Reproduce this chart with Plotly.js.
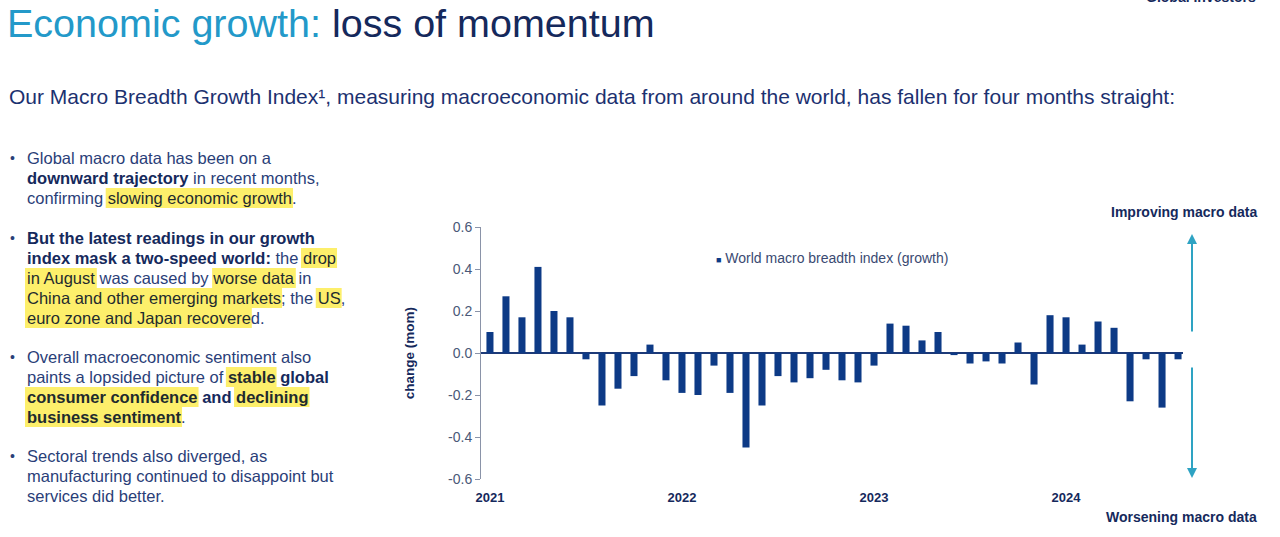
<!DOCTYPE html>
<html>
<head>
<meta charset="utf-8">
<script src="https://cdn.plot.ly/plotly-3.0.1.min.js"></script>
<style>
  html, body { margin: 0; padding: 0; background: #fff; }
  #chart { width: 1280px; height: 537px; }
</style>
</head>
<body>
<div id="chart"></div>
<script>
// Monthly change of the world macro breadth index (growth), Jan 2021 - Aug 2024
const years = [2021, 2022, 2023, 2024];
const monthNames = ['Jan', 'Feb', 'Mar', 'Apr', 'May', 'Jun', 'Jul', 'Aug', 'Sep', 'Oct', 'Nov', 'Dec'];
const change2021 = [0.10, 0.27, 0.17, 0.41, 0.20, 0.17, -0.03, -0.25, -0.17, -0.11, 0.04, -0.13];
const change2022 = [-0.19, -0.20, -0.06, -0.19, -0.45, -0.25, -0.11, -0.14, -0.12, -0.08, -0.13, -0.14];
const change2023 = [-0.06, 0.14, 0.13, 0.06, 0.10, -0.01, -0.05, -0.04, -0.05, 0.05, -0.15, 0.18];
const change2024 = [0.17, 0.04, 0.15, 0.12, -0.23, -0.03, -0.26, -0.03];
const yTickVals = [-0.6, -0.4, -0.2, 0, 0.2, 0.4, 0.6];
const yTickText = ['-0.6', '-0.4', '-0.2', '0.0', '0.2', '0.4', '0.6'];

const seriesName = 'World macro breadth index (growth)';

// build month categories
var values = [].concat(change2021, change2022, change2023, change2024);
var months = [];
years.forEach(function (yr) {
    monthNames.forEach(function (m) {
        if (months.length < values.length) months.push(m + ' ' + yr);
    });
});
var yearTickVals = years.map(yr => 'Jan ' + yr);
var yearTickText = years.map(yr => String(yr));

// colours
var navy = '#15295c';
var textNavy = '#2a3e78';
var teal = '#2399c9';
var arrowTeal = '#2ea3c3';
var barColor = '#0d3a86';
var highlight = '#fdef6b';

// plot area in pixels (page is 1280x537)
var L = 481, R = 1183, T = 227, B = 479;
function px(x) { return (x - L) / (R - L); }
function py(y) { return (B - y) / (B - T); }

var FONT = 'Liberation Sans, Arial, sans-serif';

// left hand bullet text: [text, style]  n normal, b bold, h highlight, bh bold+highlight
var bulletLines = [
    { y: 158, dot: true, segs: [['Global macro data has been on a', 'n']] },
    { y: 178, segs: [['downward trajectory', 'b'], [' in recent months,', 'n']] },
    { y: 198, segs: [['confirming ', 'n'], ['slowing economic growth', 'h'], ['.', 'n']] },
    { y: 238, dot: true, segs: [['But the latest readings in our growth', 'b']] },
    { y: 258, segs: [['index mask a two-speed world:', 'b'], [' the ', 'n'], ['drop', 'h']] },
    { y: 278, segs: [['in August', 'h'], [' was caused by ', 'n'], ['worse data', 'h'], [' in', 'n']] },
    { y: 298, segs: [['China and other emerging markets', 'h'], ['; the ', 'n'], ['US', 'h'], [',', 'n']] },
    { y: 318, segs: [['euro zone and Japan recovere', 'h'], ['d.', 'n']] },
    { y: 357, dot: true, segs: [['Overall macroeconomic sentiment also', 'n']] },
    { y: 377, segs: [['paints a lopsided picture of ', 'n'], ['stable', 'bh'], [' global', 'b']] },
    { y: 397, segs: [['consumer confidence', 'bh'], [' and ', 'b'], ['declining', 'bh']] },
    { y: 417, segs: [['business sentiment', 'bh'], ['.', 'n']] },
    { y: 456, dot: true, segs: [['Sectoral trends also diverged, as', 'n']] },
    { y: 476, segs: [['manufacturing continued to disappoint but', 'n']] },
    { y: 496, segs: [['services did better.', 'n']] }
];

var bulletSize = 16.5;
var canvas = document.createElement('canvas');
var ctx = canvas.getContext('2d');
function textWidth(str, bold) {
    ctx.font = (bold ? 'bold ' : '') + bulletSize + 'px "Liberation Sans", Arial, sans-serif';
    return ctx.measureText(str).width;
}

var annotations = [];
var shapes = [];

bulletLines.forEach(function (line) {
    var x0 = 26;
    var html = '';
    line.segs.forEach(function (seg) {
        var txt = seg[0], st = seg[1];
        var bold = st.indexOf('b') >= 0;
        var hl = st.indexOf('h') >= 0;
        var w = textWidth(txt, bold);
        if (hl) {
            shapes.push({
                type: 'rect', xref: 'paper', yref: 'paper', layer: 'below',
                x0: px(x0 - 1), x1: px(x0 + w + 2), y0: py(line.y + 10), y1: py(line.y - 10),
                fillcolor: highlight, line: { width: 0 }
            });
        }
        var colour = hl ? '#1f2b2e' : (bold ? navy : textNavy);
        var inner = bold ? '<b>' + txt + '</b>' : txt;
        html += '<span style="color:' + colour + '">' + inner + '</span>';
        x0 += w;
    });
    annotations.push({
        xref: 'paper', yref: 'paper', x: px(26), y: py(line.y),
        xanchor: 'left', yanchor: 'middle', showarrow: false, borderpad: 0,
        text: html, font: { family: FONT, size: bulletSize, color: textNavy }
    });
    if (line.dot) {
        annotations.push({
            xref: 'paper', yref: 'paper', x: px(9), y: py(line.y),
            xanchor: 'left', yanchor: 'middle', showarrow: false, borderpad: 0,
            text: '•', font: { family: FONT, size: 14, color: textNavy }
        });
    }
});

// headings
annotations.push({
    xref: 'paper', yref: 'paper', x: px(6), y: py(22.5),
    xanchor: 'left', yanchor: 'middle', showarrow: false, borderpad: 0,
    text: '<span style="color:' + teal + '">Economic growth:</span> loss of momentum',
    font: { family: FONT, size: 39.5, color: navy }
});
annotations.push({
    xref: 'paper', yref: 'paper', x: px(8), y: py(96),
    xanchor: 'left', yanchor: 'middle', showarrow: false, borderpad: 0,
    text: 'Our Macro Breadth Growth Index¹, measuring macroeconomic data from around the world, has fallen for four months straight:',
    font: { family: FONT, size: 21, color: '#1c3170' }
});
annotations.push({
    xref: 'paper', yref: 'paper', x: px(1257), y: py(6),
    xanchor: 'right', yanchor: 'bottom', showarrow: false, borderpad: 0,
    text: '<b>Global Investors</b>',
    font: { family: FONT, size: 14, color: navy }
});

// legend-like label inside the plot
annotations.push({
    xref: 'paper', yref: 'paper', x: px(715), y: py(258),
    xanchor: 'left', yanchor: 'middle', showarrow: false, borderpad: 0,
    text: '<span style="color:' + barColor + ';font-size:9px">■</span> ' + seriesName,
    font: { family: FONT, size: 14, color: '#3a4a72' }
});

// right hand direction labels and arrows
annotations.push({
    xref: 'paper', yref: 'paper', x: px(1258), y: py(212),
    xanchor: 'right', yanchor: 'middle', showarrow: false, borderpad: 0,
    text: '<b>Improving macro data</b>', font: { family: FONT, size: 14, color: navy }
});
annotations.push({
    xref: 'paper', yref: 'paper', x: px(1258), y: py(517),
    xanchor: 'right', yanchor: 'middle', showarrow: false, borderpad: 0,
    text: '<b>Worsening macro data</b>', font: { family: FONT, size: 14, color: navy }
});
annotations.push({
    xref: 'paper', yref: 'paper', x: px(1192), y: py(234),
    text: '', showarrow: true, ax: 0, ay: 99,
    arrowhead: 2, arrowsize: 1, arrowwidth: 2, arrowcolor: arrowTeal
});
annotations.push({
    xref: 'paper', yref: 'paper', x: px(1192), y: py(478),
    text: '', showarrow: true, ax: 0, ay: -112,
    arrowhead: 2, arrowsize: 1, arrowwidth: 2, arrowcolor: arrowTeal
});

var trace = {
    x: months,
    y: values,
    type: 'bar',
    name: seriesName,
    marker: { color: barColor },
    hoverinfo: 'x+y'
};

var layout = {
    width: 1280,
    height: 537,
    margin: { l: L, r: 1280 - R, t: T, b: 537 - B, pad: 0 },
    paper_bgcolor: '#ffffff',
    plot_bgcolor: '#ffffff',
    showlegend: false,
    bargap: 0.56,
    font: { family: FONT, color: navy },
    xaxis: {
        type: 'category',
        range: [-0.56, 43.31],
        tickmode: 'array',
        tickvals: yearTickVals,
        ticktext: yearTickText,
        tickfont: { family: FONT, size: 13, color: navy, weight: 'bold' },
        ticks: 'outside',
        ticklen: 6,
        tickcolor: 'rgba(0,0,0,0)',
        showgrid: false,
        showline: false,
        zeroline: false
    },
    yaxis: {
        range: [-0.6, 0.6],
        tickmode: 'array',
        tickvals: yTickVals,
        ticktext: yTickText,
        tickfont: { family: FONT, size: 14, color: '#4a5878' },
        ticks: 'outside',
        ticklen: 5,
        tickcolor: '#8a93a8',
        showline: true,
        linecolor: '#8a93a8',
        linewidth: 1,
        showgrid: false,
        zeroline: true,
        zerolinecolor: '#1d3a78',
        zerolinewidth: 2,
        title: {
            text: '<b>change (mom)</b>',
            font: { family: FONT, size: 13.5, color: navy },
            standoff: 30
        }
    },
    shapes: shapes,
    annotations: annotations
};

Plotly.newPlot('chart', [trace], layout, { displayModeBar: false, staticPlot: true });
</script>
</body>
</html>
